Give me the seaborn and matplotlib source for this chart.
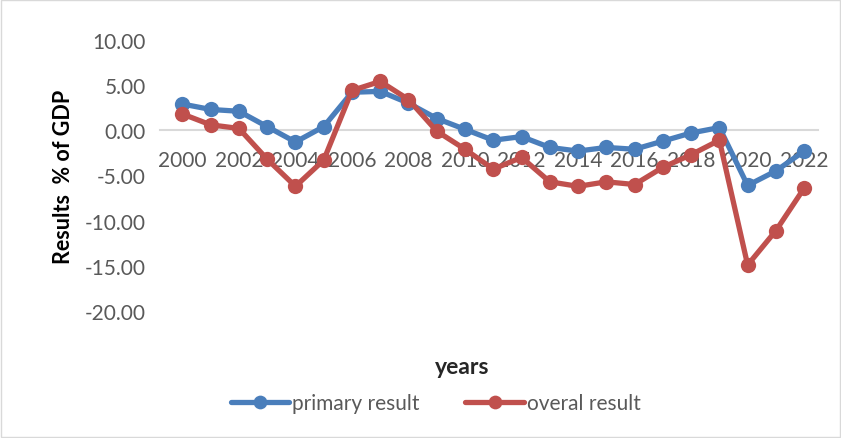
import numpy as np
import pandas as pd
import seaborn as sns
import matplotlib.pyplot as plt
from matplotlib.ticker import FuncFormatter

# data
years = list(range(2000, 2023))
primary = [2.9, 2.3, 2.1, 0.4, -1.3, 0.4, 4.2, 4.3, 3.0, 1.3, 0.1, -1.1, -0.7,
           -1.9, -2.3, -1.9, -2.1, -1.2, -0.3, 0.3, -6.1, -4.5, -2.3]
overall = [1.8, 0.6, 0.2, -3.2, -6.2, -3.3, 4.4, 5.4, 3.4, -0.1, -2.1, -4.3, -3.0,
           -5.7, -6.2, -5.7, -6.0, -4.1, -2.7, -1.1, -14.9, -11.1, -6.4]
series_names = ['primary result', 'overal result']
yticks = [-20, -15, -10, -5, 0, 5, 10]
xticks = list(range(2000, 2023, 2))

df = pd.DataFrame({'year': years * 2,
                   'value': primary + overall,
                   'series': [series_names[0]] * len(years) + [series_names[1]] * len(years)})

sns.set_style('white')
plt.rcParams['font.family'] = ['Lato', 'DejaVu Sans']
grey = '#595959'

fig = plt.figure(figsize=(8.41, 4.39), dpi=100)
ax = fig.add_axes([0.19, 0.289, 0.783, 0.618])

sns.lineplot(data=df, x='year', y='value', hue='series',
             palette=['#4a7ebb', '#c0504d'], marker='o', markersize=11,
             markeredgewidth=0, linewidth=3.8, ax=ax, legend=True, zorder=3)

ax.set_ylim(-20, 10)
ax.set_xlim(1999.2, 2022.5)
ax.set_yticks(yticks)
ax.set_xticks(xticks)
ax.yaxis.set_major_formatter(FuncFormatter(lambda v, p: f'{v:.2f}'))
ax.tick_params(length=0, labelsize=15, labelcolor=grey)
ax.tick_params(axis='x', pad=14)
ax.tick_params(axis='y', pad=10)

for s in ['top', 'right', 'left']:
    ax.spines[s].set_visible(False)
ax.spines['bottom'].set_position(('data', 0))
ax.spines['bottom'].set_color('#d9d9d9')
ax.spines['bottom'].set_linewidth(1.5)
ax.spines['bottom'].set_zorder(0)

ax.set_xlabel('')
ax.set_ylabel('Results  % of GDP', fontsize=15.5, fontweight='bold', color='black', labelpad=8)
fig.text(0.549, 0.162, 'years', ha='center', va='center', fontsize=16.5, fontweight='bold')

handles, labels = ax.get_legend_handles_labels()
ax.legend(handles, labels, loc='center', bbox_to_anchor=(0.518, 0.08), bbox_transform=fig.transFigure,
          ncol=2, frameon=False, fontsize=15, labelcolor=grey, handlelength=2.8,
          handletextpad=0.15, columnspacing=2.2, markerscale=0.9)

fig.patches.append(plt.Rectangle((0.001, 0.002), 0.998, 0.996, transform=fig.transFigure,
                                 fill=False, edgecolor='#d9d9d9', linewidth=1))

fig.savefig('out.png', dpi=100)
